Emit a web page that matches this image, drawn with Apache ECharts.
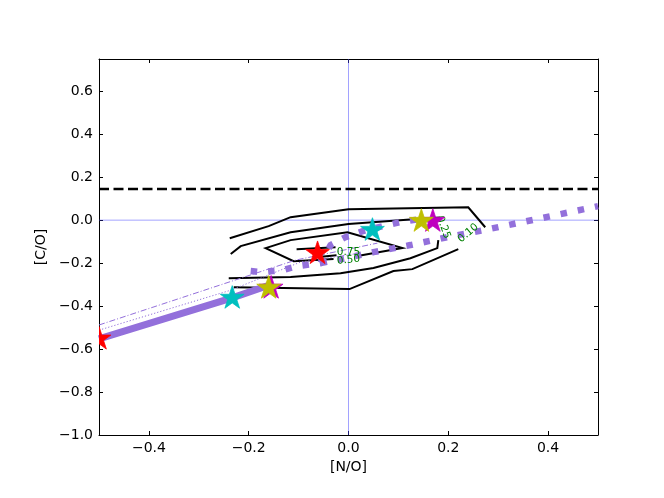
<!DOCTYPE html>
<html>
<head>
<meta charset="utf-8">
<script src="https://cdn.jsdelivr.net/npm/echarts@6/dist/echarts.min.js"></script>
<style>
html,body{margin:0;padding:0;background:#fff;}
#chart{width:664px;height:498px;}
</style>
</head>
<body>
<div id="chart"></div>
<script>
// ---- axis ranges & ticks ----
const xRange = [-0.5, 0.5];
const yRange = [-1.0, 0.75];
const xTicks = [-0.4, -0.2, 0.0, 0.2, 0.4];
const yTicks = [-1.0, -0.8, -0.6, -0.4, -0.2, 0.0, 0.2, 0.4, 0.6];
const refLineY = 0.145;

// ---- contour lines (levels 0.10, 0.25, 0.50, 0.75) ----
const c010a = [[-0.238,-0.084],[-0.16,-0.028],[-0.116,0.014],[0,0.051],[0.24,0.06],[0.274,-0.033]];
const c010b = [[0.22,-0.135],[0.128,-0.228],[0.09,-0.237],[0.002,-0.321],[-0.23,-0.312]];
const c025a = [[-0.236,-0.158],[-0.216,-0.121],[-0.116,-0.056],[0,-0.018],[0.144,0.007],[0.184,0.012]];
const c025b = [[0.18,-0.093],[0.178,-0.13],[0.124,-0.177],[0.05,-0.223],[-0.016,-0.247],[-0.116,-0.265],[-0.24,-0.27]];
const c050  = [[0.018,-0.167],[0.108,-0.13],[-0.002,-0.056],[-0.116,-0.093],[-0.166,-0.13],[-0.11,-0.191],[-0.03,-0.181]];
const c075a = [[-0.104,-0.135],[-0.026,-0.126]];
const c075b = [[-0.06,-0.172],[-0.024,-0.163]];
const contourLabelText = ['0.75', '0.50', '0.25', '0.10'];
const contourLabelPos  = [[0.0,-0.149],[0.0,-0.186],[0.19,-0.033],[0.24,-0.060]];
const contourLabelRot  = [0, 6, -70, 40];

// ---- model tracks ----
const thickTrack  = [[-0.5,-0.553],[-0.233,-0.362],[-0.158,-0.302]];
const dottedA     = [[-0.196,-0.237],[-0.172,-0.242],[-0.152,-0.237],[-0.132,-0.233],[-0.102,-0.214],[-0.056,-0.2],[-0.036,-0.116],[-0.006,-0.079],[0.034,-0.047],[0.104,-0.009],[0.154,0.009]];
const dottedB     = [[-0.056,-0.2],[-0.006,-0.177],[0.05,-0.149],[0.124,-0.116],[0.198,-0.079],[0.27,-0.047],[0.378,0.005],[0.5,0.065]];
const thinDashDot = [[-0.5,-0.488],[-0.106,-0.186],[0.058,-0.107]];
const thinDotted  = [[-0.5,-0.512],[-0.236,-0.326],[-0.096,-0.195],[0.024,-0.153]];

// ---- star markers ----
const starsMagenta = [[-0.155,-0.316],[0.169,-0.005]];
const starsYellow  = [[-0.16,-0.316],[0.146,-0.005]];
const starsCyan    = [[-0.233,-0.363],[0.048,-0.047]];
const starsRed     = [[-0.5,-0.553],[-0.062,-0.155]];

const FONT = 'DejaVu Sans';
const PURPLE = '#9370DB';

function fmt(v){
  if (Math.abs(v) < 1e-9) return '0.0';
  return (v < 0 ? '\u2212' : '') + Math.abs(v).toFixed(1);
}

function lineSeries(data, color, width, type, z){
  return {
    type: 'line', data: data, showSymbol: false, symbol: 'none',
    clip: true, animation: false, silent: true, z: z || 2,
    lineStyle: { color: color, width: width, type: type || 'solid', cap: 'butt', join: 'miter' }
  };
}

// Sutherland-Hodgman clip of polygon against rectangle
function clipPoly(pts, rect){
  const edges = [
    p => p[0] >= rect.x,
    p => p[0] <= rect.x + rect.width,
    p => p[1] >= rect.y,
    p => p[1] <= rect.y + rect.height
  ];
  const inter = [
    (a, b) => { const t = (rect.x - a[0]) / (b[0] - a[0]); return [rect.x, a[1] + t * (b[1] - a[1])]; },
    (a, b) => { const X = rect.x + rect.width; const t = (X - a[0]) / (b[0] - a[0]); return [X, a[1] + t * (b[1] - a[1])]; },
    (a, b) => { const t = (rect.y - a[1]) / (b[1] - a[1]); return [a[0] + t * (b[0] - a[0]), rect.y]; },
    (a, b) => { const Y = rect.y + rect.height; const t = (Y - a[1]) / (b[1] - a[1]); return [a[0] + t * (b[0] - a[0]), Y]; }
  ];
  let out = pts;
  for (let e = 0; e < 4; e++){
    const inp = out; out = [];
    for (let i = 0; i < inp.length; i++){
      const cur = inp[i], prev = inp[(i + inp.length - 1) % inp.length];
      const ci = edges[e](cur), pi = edges[e](prev);
      if (ci){
        if (!pi) out.push(inter[e](prev, cur));
        out.push(cur);
      } else if (pi){
        out.push(inter[e](prev, cur));
      }
    }
    if (!out.length) break;
  }
  return out;
}

function starSeries(data, color){
  const R = 12.5, r = R * 0.382;
  return {
    type: 'custom', data: data, clip: true, animation: false, silent: true, z: 10,
    renderItem: function(params, api){
      const c = api.coord([api.value(0), api.value(1)]);
      const pts = [];
      for (let i = 0; i < 10; i++){
        const a = -Math.PI / 2 + i * Math.PI / 5;
        const rr = (i % 2 === 0) ? R : r;
        pts.push([c[0] + rr * Math.cos(a), c[1] + rr * Math.sin(a)]);
      }
      const cs = params.coordSys;
      const clipped = clipPoly(pts, { x: cs.x, y: cs.y, width: cs.width, height: cs.height });
      return { type: 'polygon', shape: { points: clipped },
               style: { fill: color, stroke: color, lineWidth: 0.8 } };
    }
  };
}

const labelData = contourLabelPos.map((p, i) => [p[0], p[1], i]);

const axisCommon = {
  type: 'value',
  axisLine: { show: true, onZero: false, lineStyle: { color: '#000', width: 1 } },
  axisTick: { show: true, inside: true, length: 4, lineStyle: { color: '#000', width: 1 } },
  splitLine: { show: false }
};

const option = {
  animation: false,
  backgroundColor: '#fff',
  grid: { left: 99, right: 66, top: 59, bottom: 63, containLabel: false },
  xAxis: [
    Object.assign({}, axisCommon, {
      position: 'bottom', min: xRange[0], max: xRange[1],
      name: '[N/O]', nameLocation: 'middle', nameGap: 24,
      nameTextStyle: { fontFamily: FONT, fontSize: 14, color: '#000' },
      axisTick: Object.assign({}, axisCommon.axisTick, { customValues: xTicks }),
      axisLabel: { customValues: xTicks, formatter: fmt, fontFamily: FONT, fontSize: 14, color: '#000', margin: 6 }
    }),
    Object.assign({}, axisCommon, {
      position: 'top', min: xRange[0], max: xRange[1],
      axisTick: Object.assign({}, axisCommon.axisTick, { customValues: xTicks }),
      axisLabel: { show: false }
    })
  ],
  yAxis: [
    Object.assign({}, axisCommon, {
      position: 'left', min: yRange[0], max: yRange[1],
      name: '[C/O]', nameLocation: 'middle', nameGap: 47,
      nameTextStyle: { fontFamily: FONT, fontSize: 14, color: '#000' },
      axisTick: Object.assign({}, axisCommon.axisTick, { customValues: yTicks }),
      axisLabel: { customValues: yTicks, formatter: fmt, fontFamily: FONT, fontSize: 14, color: '#000', margin: 6 }
    }),
    Object.assign({}, axisCommon, {
      position: 'right', min: yRange[0], max: yRange[1],
      axisTick: Object.assign({}, axisCommon.axisTick, { customValues: yTicks }),
      axisLabel: { show: false }
    })
  ],
  series: [
    // blue zero lines
    lineSeries([[0, yRange[0]], [0, yRange[1]]], 'rgba(60,60,255,0.6)', 0.8, 'solid', 1),
    lineSeries([[xRange[0], 0], [xRange[1], 0]], 'rgba(60,60,255,0.6)', 0.8, 'solid', 1),
    // reference dashed line
    lineSeries([[xRange[0], refLineY], [xRange[1], refLineY]], '#000', 2.6, [10, 4.5], 3),
    // contours
    lineSeries(c010a, '#000', 2, 'solid', 3),
    lineSeries(c010b, '#000', 2, 'solid', 3),
    lineSeries(c025a, '#000', 2, 'solid', 3),
    lineSeries(c025b, '#000', 2, 'solid', 3),
    lineSeries(c050,  '#000', 2, 'solid', 3),
    lineSeries(c075a, '#000', 2, 'solid', 3),
    lineSeries(c075b, '#000', 2, 'solid', 3),
    // model tracks
    lineSeries(thinDotted, PURPLE, 1, [1.2, 2], 4),
    lineSeries(thinDashDot, PURPLE, 1, [6, 2, 1, 2], 4),
    lineSeries(thickTrack, PURPLE, 7, 'solid', 4),
    lineSeries(dottedA, PURPLE, 6.5, [6.5, 11], 5),
    lineSeries(dottedB, PURPLE, 6.5, [6.5, 11], 5),
    // contour labels
    {
      type: 'custom', data: labelData, animation: false, silent: true, z: 6,
      renderItem: function(params, api){
        const c = api.coord([api.value(0), api.value(1)]);
        const i = api.value(2);
        return {
          type: 'text', x: c[0], y: c[1],
          rotation: contourLabelRot[i] * Math.PI / 180,
          style: { text: contourLabelText[i], fill: '#008000', font: '10.5px "DejaVu Sans"',
                   align: 'center', verticalAlign: 'middle' }
        };
      }
    },
    // stars
    starSeries(starsMagenta, '#BF00BF'),
    starSeries(starsYellow, '#BFBF00'),
    starSeries(starsCyan, '#00BFBF'),
    starSeries(starsRed, '#FF0000')
  ]
};

const chart = echarts.init(document.getElementById('chart'), null, { renderer: 'canvas' });
chart.setOption(option);
</script>
</body>
</html>
